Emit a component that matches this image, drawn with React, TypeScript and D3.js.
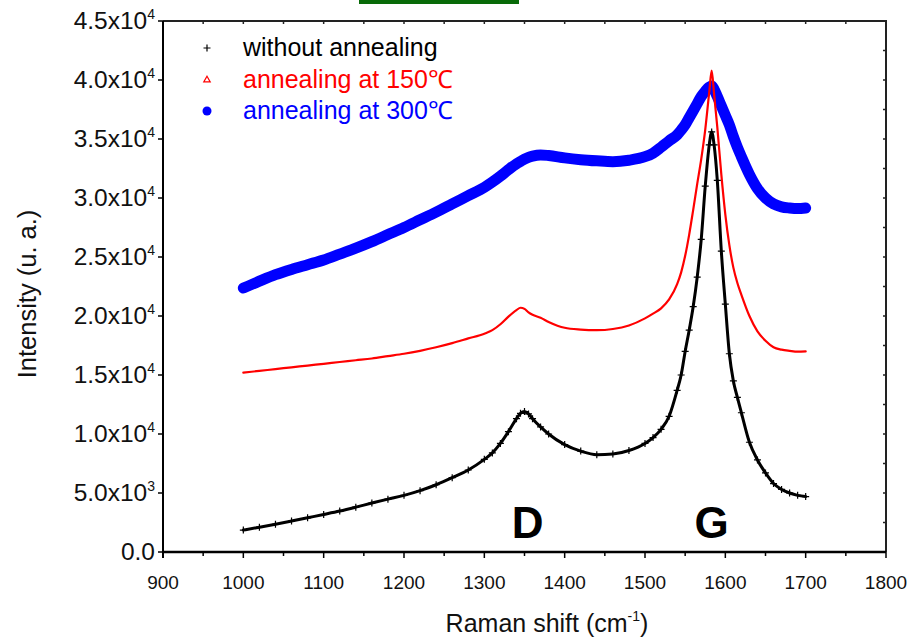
import * as d3 from 'd3';
import React, { useRef, useEffect } from 'react';

const mainWidth = 910;
const mainHeight = 638;

// plot box in page pixels
const plot = { left: 163, right: 886, top: 21, bottom: 552 };

const font = 'Arial, "Liberation Sans", Helvetica, sans-serif';

// Raman shift (cm-1) where the curves are read
const ramanShift = [
  1000, 1020, 1040, 1060, 1080, 1100, 1120, 1140, 1160, 1180, 1200, 1220, 1240, 1260, 1280, 1300,
  1310, 1320, 1330, 1340, 1345, 1350, 1355, 1360, 1370, 1380, 1400, 1420, 1440, 1460, 1480, 1500,
  1510, 1520, 1530, 1540, 1545, 1550, 1555, 1560, 1565, 1570, 1575, 1580, 1583, 1586, 1590, 1595,
  1600, 1605, 1610, 1615, 1620, 1630, 1640, 1650, 1660, 1670, 1680, 1690, 1700,
];

const withoutAnnealing = [
  1860, 2100, 2350, 2620, 2900, 3180, 3470, 3800, 4150, 4480, 4800, 5200, 5700, 6300, 6950, 7850,
  8400, 9200, 10200, 11300, 11750, 11900, 11700, 11300, 10600, 10000, 9100, 8550, 8250, 8300, 8600, 9200,
  9700, 10400, 11500, 13700, 15000, 17000, 18800, 20800, 23300, 26500, 31000, 34500, 35600, 34500, 31500, 25500,
  21000, 16800, 14500, 13100, 11800, 9300, 7800, 6700, 5800, 5300, 5000, 4800, 4700,
];

const annealing150 = [
  15200, 15350, 15500, 15650, 15800, 15950, 16100, 16250, 16400, 16600, 16800, 17050, 17350, 17700, 18100, 18500,
  18800, 19300, 19950, 20500, 20700, 20600, 20300, 20100, 19850, 19500, 19000, 18850, 18800, 18900, 19200, 19800,
  20200, 20650, 21400, 22700, 23700, 25100, 26900, 29000, 31200, 33300, 35800, 39000, 40800, 38800, 36000, 32000,
  28600, 26000, 24100, 22800, 21800, 20000, 18700, 17900, 17350, 17150, 17050, 16980, 17000,
];

const annealing300 = [
  22370, 22950, 23500, 23950, 24350, 24750, 25250, 25750, 26300, 26900, 27500, 28150, 28800, 29500, 30200, 30900,
  31350, 31850, 32400, 32900, 33100, 33300, 33450, 33550, 33650, 33600, 33400, 33250, 33150, 33080, 33200, 33500,
  33800, 34300, 34850, 35350, 35750, 36200, 36800, 37400, 38000, 38600, 39050, 39400, 39500, 39200, 38600, 37800,
  37000, 36200, 35200, 34300, 33500, 32000, 30800, 30000, 29500, 29250, 29150, 29100, 29150,
];

const seriesNames = ['without annealing', 'annealing at 150\u2103', 'annealing at 300\u2103'];
const seriesColors = ['#000000', '#ff0000', '#0000ff'];

const xTicks = [900, 1000, 1100, 1200, 1300, 1400, 1500, 1600, 1700, 1800];
const yTicks = [0, 5000, 10000, 15000, 20000, 25000, 30000, 35000, 40000, 45000];
const yTickMantissa = ['0.0', '5.0x10', '1.0x10', '1.5x10', '2.0x10', '2.5x10', '3.0x10', '3.5x10', '4.0x10', '4.5x10'];
const yTickExponent = ['', '3', '4', '4', '4', '4', '4', '4', '4', '4'];

const peakLabels = [
  { text: 'D', shift: 1354 },
  { text: 'G', shift: 1583 },
];

function RamanChart() {
  const ref = useRef(null);

  useEffect(() => {
    const svg = d3.select(ref.current);
    svg.selectAll('*').remove();

    const x = d3.scaleLinear().domain([900, 1800]).range([plot.left, plot.right]);
    const y = d3.scaleLinear().domain([0, 45000]).range([plot.bottom, plot.top]);

    // green strip at the very top
    svg.append('rect').attr('x', 359).attr('y', 0).attr('width', 160).attr('height', 4).attr('fill', '#086a08');

    // frame: top + right
    svg
      .append('path')
      .attr('d', `M${plot.left},${plot.top}H${plot.right}V${plot.bottom}`)
      .attr('fill', 'none')
      .attr('stroke', '#222')
      .attr('stroke-width', 2);

    // top / right inner minor ticks
    const g = svg.append('g');
    d3.range(950, 1800, 50).forEach((v) => {
      g.append('line')
        .attr('x1', x(v)).attr('x2', x(v))
        .attr('y1', plot.top).attr('y2', plot.top + 3)
        .attr('stroke', '#222').attr('stroke-width', 1.5);
    });
    d3.range(2500, 45000, 2500).forEach((v) => {
      g.append('line')
        .attr('x1', plot.right).attr('x2', plot.right - 3)
        .attr('y1', y(v)).attr('y2', y(v))
        .attr('stroke', '#222').attr('stroke-width', 1.5);
    });

    // bottom axis
    const xAxis = svg.append('g').attr('transform', `translate(0,${plot.bottom})`);
    xAxis
      .append('line')
      .attr('x1', plot.left).attr('x2', plot.right)
      .attr('stroke', '#000').attr('stroke-width', 2.5);
    xAxis
      .selectAll('line.major')
      .data(xTicks)
      .join('line')
      .attr('class', 'major')
      .attr('x1', (d) => x(d)).attr('x2', (d) => x(d))
      .attr('y1', 0).attr('y2', 6)
      .attr('stroke', '#000').attr('stroke-width', 1.5);
    xAxis
      .selectAll('line.minor')
      .data(d3.range(950, 1800, 100))
      .join('line')
      .attr('class', 'minor')
      .attr('x1', (d) => x(d)).attr('x2', (d) => x(d))
      .attr('y1', 0).attr('y2', 4)
      .attr('stroke', '#000').attr('stroke-width', 1.5);
    xAxis
      .selectAll('text')
      .data(xTicks)
      .join('text')
      .attr('x', (d) => x(d))
      .attr('y', 37)
      .attr('text-anchor', 'middle')
      .attr('font-family', font)
      .attr('font-size', 19)
      .attr('fill', '#111')
      .text((d) => d);

    // left axis
    const yAxis = svg.append('g').attr('transform', `translate(${plot.left},0)`);
    yAxis
      .append('line')
      .attr('y1', plot.top).attr('y2', plot.bottom + 6)
      .attr('stroke', '#000').attr('stroke-width', 2);
    yAxis
      .selectAll('line.tick')
      .data(yTicks)
      .join('line')
      .attr('class', 'tick')
      .attr('x1', -5).attr('x2', 0)
      .attr('y1', (d) => y(d)).attr('y2', (d) => y(d))
      .attr('stroke', '#000').attr('stroke-width', 1.5);
    const yLabels = yAxis
      .selectAll('text')
      .data(yTicks)
      .join('text')
      .attr('x', -8)
      .attr('y', (d) => y(d) + 8)
      .attr('text-anchor', 'end')
      .attr('font-family', font)
      .attr('font-size', 24.5)
      .attr('fill', '#111');
    yLabels.append('tspan').text((d, i) => yTickMantissa[i]);
    yLabels
      .append('tspan')
      .attr('dy', -10)
      .attr('font-size', 14)
      .text((d, i) => yTickExponent[i]);

    // axis titles
    const xTitle = svg
      .append('text')
      .attr('x', 547)
      .attr('y', 632)
      .attr('text-anchor', 'middle')
      .attr('font-family', font)
      .attr('font-size', 25)
      .attr('fill', '#111');
    xTitle.append('tspan').text('Raman shift (cm');
    xTitle.append('tspan').attr('dy', -11).attr('font-size', 14).text('-1');
    xTitle.append('tspan').attr('dy', 11).text(')');

    svg
      .append('text')
      .attr('transform', 'translate(36,294) rotate(-90)')
      .attr('text-anchor', 'middle')
      .attr('font-family', font)
      .attr('font-size', 25.5)
      .attr('fill', '#111')
      .text('Intensity (u. a.)');

    // curves
    const seriesValues = [withoutAnnealing, annealing150, annealing300];
    const line = d3
      .line()
      .x((d) => x(d[0]))
      .y((d) => y(d[1]))
      .curve(d3.curveMonotoneX);

    const curves = svg.append('g');
    // blue drawn first so the narrow peaks sit on top of it
    [2, 1, 0].forEach((k) => {
      const pts = ramanShift.map((s, i) => [s, seriesValues[k][i]]);
      curves
        .append('path')
        .datum(pts)
        .attr('d', line)
        .attr('fill', 'none')
        .attr('stroke', seriesColors[k])
        .attr('stroke-width', k === 2 ? 11 : k === 1 ? 2.2 : 3)
        .attr('stroke-linecap', 'round')
        .attr('stroke-linejoin', 'round');
      if (k === 0) {
        curves
          .selectAll('path.cross')
          .data(pts)
          .join('path')
          .attr('class', 'cross')
          .attr('transform', (d) => `translate(${x(d[0])},${y(d[1])})`)
          .attr('d', 'M-3.5,0H3.5M0,-3.5V3.5')
          .attr('stroke', '#000')
          .attr('stroke-width', 1.2);
      }
    });

    // peak labels
    svg
      .selectAll('text.peak')
      .data(peakLabels)
      .join('text')
      .attr('class', 'peak')
      .attr('x', (d) => x(d.shift))
      .attr('y', 538)
      .attr('text-anchor', 'middle')
      .attr('font-family', font)
      .attr('font-weight', 'bold')
      .attr('font-size', 44)
      .attr('fill', '#000')
      .text((d) => d.text);

    // legend
    const legend = svg.append('g');
    const rowY = [48, 80, 111];
    seriesNames.forEach((name, i) => {
      legend
        .append('text')
        .attr('x', 243)
        .attr('y', rowY[i] + 8)
        .attr('font-family', font)
        .attr('font-size', 25)
        .attr('fill', seriesColors[i])
        .text(name);
    });
    legend
      .append('path')
      .attr('d', `M203.5,${rowY[0]}H210.5M207,${rowY[0] - 3.5}V${rowY[0] + 3.5}`)
      .attr('stroke', '#000')
      .attr('stroke-width', 1.2);
    legend
      .append('path')
      .attr('d', d3.symbol(d3.symbolTriangle, 18)())
      .attr('transform', `translate(207,${rowY[1]})`)
      .attr('fill', 'none')
      .attr('stroke', '#ff0000')
      .attr('stroke-width', 1.2);
    legend
      .append('circle')
      .attr('cx', 207)
      .attr('cy', rowY[2])
      .attr('r', 4.5)
      .attr('fill', '#0000ff');
  }, []);

  return (
    <svg
      ref={ref}
      width={mainWidth}
      height={mainHeight}
      style={{ position: 'absolute', left: 0, top: 0, background: '#fff' }}
    ></svg>
  );
}

export default function App() {
  return <RamanChart />;
}
